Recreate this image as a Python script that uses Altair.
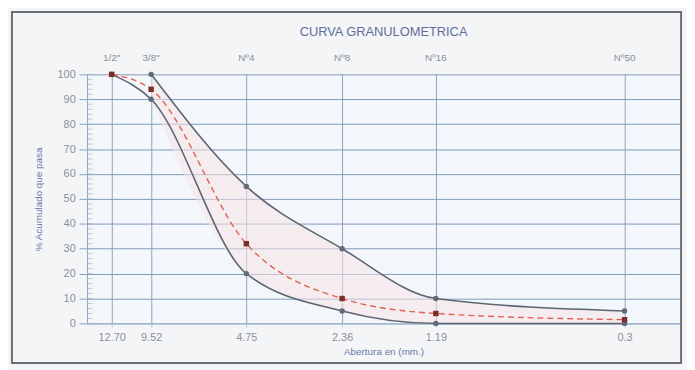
import json
import altair as alt
import pandas as pd

# ---- data ----
aberturas = [12.70, 9.52, 4.75, 2.36, 1.19, 0.3]
tamices = ['1/2"', '3/8"', 'Nº4', 'Nº8', 'Nº16', 'Nº50']
etiquetas_mm = ["12.70", "9.52", "4.75", "2.36", "1.19", "0.3"]
limite_superior = [None, 100, 55, 30, 10, 5]
limite_inferior = [100, 90, 20, 5, 0, 0]
muestra = [100, 94, 32, 10, 4, 1.5]
y_ticks = [0, 10, 20, 30, 40, 50, 60, 70, 80, 90, 100]
y_minor = list(range(0, 101, 2))

df = pd.DataFrame({
    "abertura": aberturas,
    "sup": limite_superior,
    "inf": limite_inferior,
    "muestra": muestra,
    "tamiz": tamices,
})
df_band = df.dropna(subset=["sup"])
df_lim = pd.concat([
    pd.DataFrame({"abertura": aberturas, "pct": limite_superior, "serie": "sup"}),
    pd.DataFrame({"abertura": aberturas, "pct": limite_inferior, "serie": "inf"}),
]).dropna(subset=["pct"])
df_minor = pd.DataFrame({"v": y_minor})

bot_map = json.dumps({str(a): t for a, t in zip(aberturas, etiquetas_mm)})

xscale = alt.Scale(type="log", domain=[0.2, 15.2], reverse=True, nice=False)
yscale = alt.Scale(domain=[0, 100], nice=False)

grid_col = "#8ea2bd"
lab_col = "#8a8f98"
title_col = "#6a78a8"
interp = "monotone"

x_ax = alt.Axis(
    values=aberturas, labelExpr=f"{bot_map}[toString(datum.value)]",
    title="Abertura en (mm.)", titleColor=title_col, titleFontSize=10,
    titleFontWeight="normal", titlePadding=4, labelOverlap=False,
    labelColor=lab_col, labelFontSize=11, labelPadding=4,
    grid=True, gridColor=grid_col, gridWidth=1,
    domainColor="#9fb4cc", tickColor="#bfd0e0", tickSize=4,
)
y_ax = alt.Axis(
    values=y_ticks, title="% Acumulado que pasa",
    titleColor=title_col, titleFontSize=10, titleFontWeight="normal",
    titlePadding=14, labelColor=lab_col, labelFontSize=11, labelPadding=4,
    labelOverlap=False,
    grid=True, gridColor="#7f99b9", gridWidth=1,
    domainColor="#8aa2c0", tickColor="#8aa2c0", tickSize=8,
)


def X():
    return alt.X("abertura:Q", scale=xscale, axis=x_ax)


def Y(field):
    return alt.Y(field, scale=yscale, axis=y_ax)


base = alt.Chart(df)

frame = alt.Chart(pd.DataFrame({"k": [0]})).mark_rect(
    fill="transparent", stroke="#6b6e73", strokeWidth=2
).encode(
    x=alt.value(-76), x2=alt.value(601), y=alt.value(-63), y2=alt.value(292)
)

band = alt.Chart(df_band).mark_area(
    color="#f6e3e6", opacity=0.55, interpolate=interp
).encode(x=X(), y=Y("sup:Q"), y2="inf:Q")

minor = alt.Chart(df_minor).mark_tick(
    orient="horizontal", color="#9fb4cc", size=5, thickness=1
).encode(x=alt.value(3), y=Y("v:Q"))

lim_lines = alt.Chart(df_lim).mark_line(
    color="#5c6670", strokeWidth=1.6, interpolate=interp
).encode(x=X(), y=Y("pct:Q"), detail="serie:N")

lim_pts = alt.Chart(df_lim).mark_point(
    filled=True, color="#5f6b78", size=30, opacity=1
).encode(x=X(), y=Y("pct:Q"))

muestra_line = base.mark_line(
    color="#e0604f", strokeWidth=1.4, strokeDash=[6, 4], interpolate=interp
).encode(x=X(), y=Y("muestra:Q"))

muestra_pts = base.mark_point(
    filled=True, shape="square", color="#7a2e2e", size=30, opacity=1
).encode(x=X(), y=Y("muestra:Q"))

top_labels = base.mark_text(
    color=lab_col, fontSize=10, baseline="middle", font="Liberation Sans"
).encode(x=X(), y=alt.value(-17), text="tamiz:N")

chart = alt.layer(
    frame, band, minor, lim_lines, lim_pts, muestra_line, muestra_pts, top_labels
).properties(
    width=600, height=252,
    autosize=alt.AutoSizeParams(type="none"),
    padding={"left": 80, "top": 65, "right": 7, "bottom": 45},
    background="#f4f5f7",
    title=alt.TitleParams(
        "CURVA GRANULOMETRICA", color="#5f6f9c", fontSize=13,
        fontWeight="normal", anchor="middle", offset=-28,
        font="Liberation Sans",
    ),
).configure_view(
    fill="#f3f7fb", stroke=None
).configure_axis(
    labelFont="Liberation Sans", titleFont="Liberation Sans"
)

chart.save("out.html", embed_options={"renderer": "svg", "actions": False})
